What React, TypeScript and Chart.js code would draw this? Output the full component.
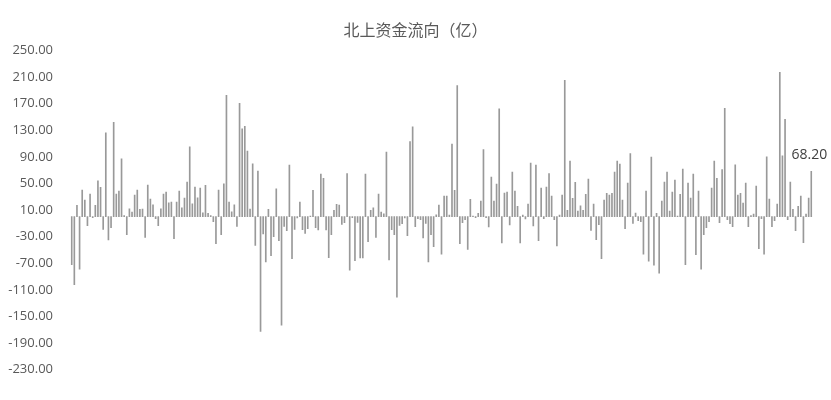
import { useEffect, useRef } from "react";
import { Chart, registerables } from "chart.js";

Chart.register(...registerables);

const TITLE = "北上资金流向（亿）";

// daily net northbound flow, 100m CNY
const NET_FLOW = [
  -72, -102, 17, -79, 40, 25, -13.5, 34, -1.5, 17, 54, 44, -19, 126, -35, -16.5, 142, 34, 38.6, 87,
  1.5, -27, 12, 7, 32.6, 40, 11, 11.5, -31, 47.6, 26.6, 18, -3, -13.5, 12, 34, 37, 21, 22, -33,
  22, 38.6, 13.5, 28, 52, 105, 19.5, 44.5, 28.5, 43, 6, 47, 5, 1.5, -7.5, -40.5, 40, -27, 49.5, 182.5,
  22, 7.5, 18, -14.5, 170.5, 132, 136, 98.5, 11.5, 79.5, -43, 68.5, -172.5, -26, -68, 11, -58.5, -30, 42, -36,
  -163, -14.5, -21, 77.5, -63, -19, -2, 22, -19.5, -25, -18, 1, 39.5, -16.5, -20, 64, 57.5, -20, -61.5, -27,
  9.5, 18.5, 17.5, -11.5, -9, 65, -80.5, -1.5, -66, -8.5, -62, -62, 64, -37.5, 9.5, 13.5, -31, 34, 7, 4.5,
  97, -65, -19.5, -27, -121, -13, -10.5, -2, -28.5, 113, 135, -15, -3, -4.5, -32, -10, -68, -27, -45, 3,
  17.5, -56.5, 31, 31, 2.5, 109, 39.5, 197, -40.5, -9, -4.5, -49, 26, 1, -1.5, 5, 23.5, 101, -1.5, -15.5,
  59.5, 23.5, 49, 162, -39.5, 35.5, 37, -12.5, 67, 38.5, 15.5, -39.5, 2.5, -3.5, 19, 80.5, -14, 77.5, -36, 43,
  -3, 44.5, 65, 31, -4.5, -44, 2.5, 32.5, 205, 9.5, 83.5, 27.5, 51.5, 8.5, 16.5, 9.5, 33.5, 56.5, -20.5, 19,
  -34.5, -12, -63, 25, 35, 32.5, 35, 67, 83.5, 79, 25, -18, 50.5, 95, -10, 5.5, -6, -7.5, -56.5, 38.5,
  -67, 89.5, -73, 5, -85, 23.5, 52, 67, 8.5, 37, 55, 1, 33.5, 71.5, -72, 50.5, 28, 64, -57, 38.5,
  -79, -27, -16.5, -7.5, 43, 83.5, 57.5, -9, 71, 163, -4.5, -10.5, -15, 78, 32.5, 35, 20.5, 50.5, -15, 1.5,
  4, 46, -48, -3, -56.5, 90, 26.5, -15, -6, 19, 217, 91.5, 146.5, -4.5, 52, 11, -21, 15.5, 31, -39,
  4, 28, 68.2,
];

const DAYS = NET_FLOW.map((_, i) => String(i + 1));

const Y_TICKS = [-230, -190, -150, -110, -70, -30, 10, 50, 90, 130, 170, 210, 250];

const TEXT_COLOR = "#595959";

// draws the value above the last bar only
const lastLabelPlugin = {
  id: "lastLabel",
  afterDatasetsDraw(chart: any) {
    const meta = chart.getDatasetMeta(0);
    const bar = meta.data[meta.data.length - 1];
    if (!bar) return;
    const { ctx } = chart;
    ctx.save();
    ctx.font = '14px "Open Sans"';
    ctx.fillStyle = "#404040";
    ctx.textAlign = "center";
    ctx.textBaseline = "middle";
    ctx.fillText(NET_FLOW[NET_FLOW.length - 1].toFixed(2), bar.x - 2, bar.y - 16);
    ctx.restore();
  },
};

function FlowChart() {
  const canvasRef = useRef<HTMLCanvasElement>(null);

  useEffect(() => {
    if (!canvasRef.current) return;
    const chart = new Chart(canvasRef.current, {
      type: "bar",
      data: {
        labels: DAYS,
        datasets: [
          {
            label: "净流入",
            data: NET_FLOW,
            backgroundColor: "#999999",
            barThickness: 1,
          },
        ],
      },
      options: {
        animation: false,
        responsive: true,
        maintainAspectRatio: false,
        layout: { padding: { left: 0, right: 0, top: 0, bottom: 30.3 } },
        plugins: {
          legend: { display: false },
          tooltip: { enabled: false },
          title: {
            display: true,
            text: TITLE,
            color: TEXT_COLOR,
            font: { family: '"Noto Sans CJK SC"', size: 16, weight: "normal" },
            padding: { top: 20.4, bottom: 10.8 },
          },
        },
        scales: {
          x: {
            display: false,
            offset: true,
            grid: { display: false },
          },
          y: {
            min: -230,
            max: 250,
            grid: { display: false, drawTicks: false },
            border: { display: false },
            afterBuildTicks: (scale: any) => {
              scale.ticks = Y_TICKS.map((v) => ({ value: v }));
            },
            afterFit: (scale: any) => {
              scale.width = 70.4;
            },
            ticks: {
              color: TEXT_COLOR,
              font: { family: '"Open Sans"', size: 13 },
              padding: 17.4,
              callback: (v: any) => Number(v).toFixed(2),
            },
          },
          // empty right gutter so the plot ends where the reference does
          gutter: {
            type: "linear",
            position: "right",
            grid: { display: false, drawTicks: false },
            border: { display: false },
            ticks: { display: false },
            afterFit: (scale: any) => {
              scale.width = 18.4;
            },
          },
        },
      },
      plugins: [lastLabelPlugin],
    });
    return () => chart.destroy();
  }, []);

  return (
    <div style={{ position: "absolute", left: 0, top: 0, width: 831, height: 400, background: "#fff" }}>
      <canvas ref={canvasRef} role="img" aria-label="北上资金流向柱状图" />
    </div>
  );
}

export default function App() {
  return <FlowChart />;
}
